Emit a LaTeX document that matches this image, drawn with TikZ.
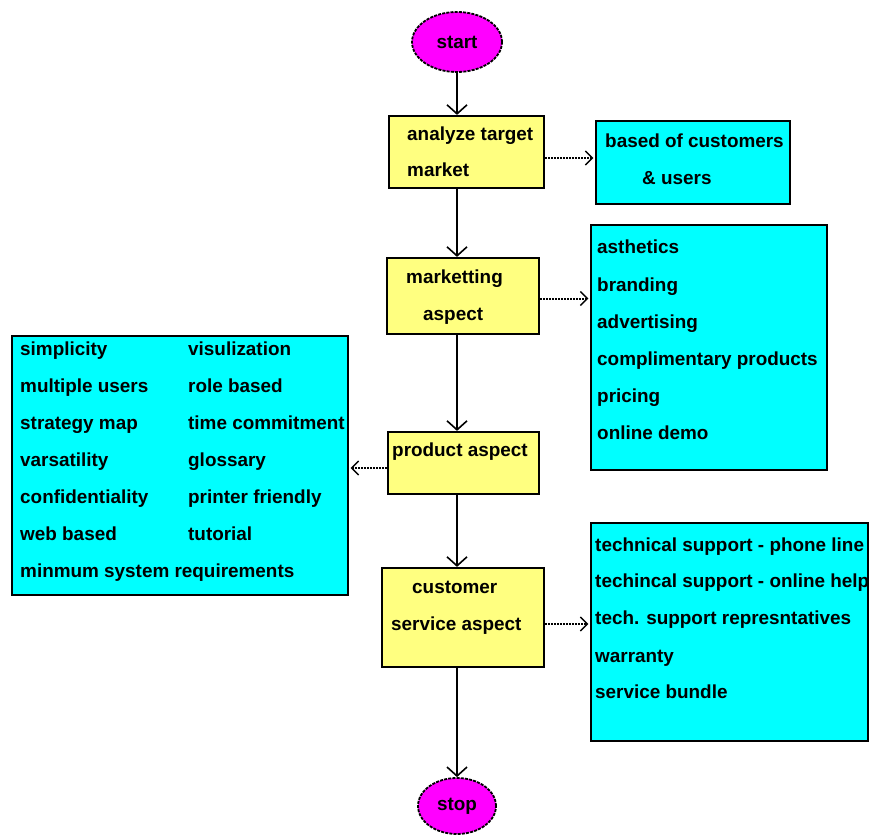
\documentclass[tikz,border=0pt]{standalone}
\usepackage{fontspec}
\setmainfont{Liberation Sans}
\usetikzlibrary{arrows.meta,shapes.geometric}
\definecolor{boxyellow}{HTML}{FFFF80}
\definecolor{boxcyan}{HTML}{00FFFF}
\definecolor{ovalmag}{HTML}{FF00FF}
\begin{document}
\begin{tikzpicture}[x=1pt,y=-1pt,
  font=\bfseries\fontsize{18.9}{24}\selectfont,
  oval/.style={ellipse, draw=black, line width=1.8pt, dash pattern=on 3pt off 1.2pt, fill=ovalmag, inner sep=0pt},
  stepbox/.style={rectangle, draw=black, line width=2.2pt, fill=boxyellow, inner sep=0pt},
  listbox/.style={rectangle, draw=black, line width=2.2pt, fill=boxcyan, inner sep=0pt},
  lbl/.style={anchor=west, inner sep=0pt, text height=14pt, text depth=4pt},
  solidarr/.style={draw=black, line width=2pt, -{Straight Barb[length=9pt,width=20pt,line width=1.6pt]}},
  dotarr/.style={draw=black, line width=2pt, dash pattern=on 1.5pt off 1.5pt, -{Straight Barb[length=7pt,width=14pt,line width=1.5pt,sep]}}
]
\useasboundingbox (0,0) rectangle (870,837);

% main flow
\node[oval, minimum width=90pt, minimum height=60pt] (start) at (457,42) {start};
\node[stepbox, minimum width=155pt, minimum height=72pt] (analyze) at (466.5,152) {};
\node[stepbox, minimum width=152pt, minimum height=76pt] (marketting) at (463,296) {};
\node[stepbox, minimum width=151pt, minimum height=62pt] (product) at (463.5,463) {};
\node[stepbox, minimum width=162pt, minimum height=99pt] (customer) at (463,617.5) {};
\node[oval, minimum width=78pt, minimum height=56pt] (stop) at (457,806) {stop};

% side boxes
\node[listbox, minimum width=194pt, minimum height=83pt] (based) at (693,162.5) {};
\node[listbox, minimum width=236pt, minimum height=245pt] (mlist) at (709,347.5) {};
\node[listbox, minimum width=336pt, minimum height=259pt] (plist) at (180,465.5) {};
\node[listbox, minimum width=277pt, minimum height=218pt] (slist) at (729.5,632) {};

% labels in step boxes
\node[lbl] (a1) at (407,136) {analyze target};
\node[lbl] (a2) at (407,172) {market};
\node[lbl] (m1) at (406,278) {marketting};
\node[lbl] (m2) at (423,315) {aspect};
\node[lbl] (p1) at (392,451) {product aspect};
\node[lbl] (c1) at (412,588) {customer};
\node[lbl] (c2) at (391,625) {service aspect};

% based box
\node[lbl] (b1) at (605,143) {based of customers};
\node[lbl] (b2) at (642,180) {\& users};

% marketing list
\node[lbl] (ml1) at (597,248) {asthetics};
\node[lbl] (ml2) at (597,286) {branding};
\node[lbl] (ml3) at (597,323) {advertising};
\node[lbl] (ml4) at (597,360) {complimentary products};
\node[lbl] (ml5) at (597,397) {pricing};
\node[lbl] (ml6) at (597,434) {online demo};

% product list
\node[lbl] (pl1) at (20,350) {simplicity};
\node[lbl] (pl2) at (20,387) {multiple users};
\node[lbl] (pl3) at (20,424) {strategy map};
\node[lbl] (pl4) at (20,461) {varsatility};
\node[lbl] (pl5) at (20,498) {confidentiality};
\node[lbl] (pl6) at (20,535) {web based};
\node[lbl] (pl7) at (20,572) {minmum system requirements};
\node[lbl] (pr1) at (188,350) {visulization};
\node[lbl] (pr2) at (188,387) {role based};
\node[lbl] (pr3) at (188,424) {time commitment};
\node[lbl] (pr4) at (188,461) {glossary};
\node[lbl] (pr5) at (188,498) {printer friendly};
\node[lbl] (pr6) at (188,535) {tutorial};

% service list
\node[lbl] (sl1) at (595,546) {technical support - phone line};
\node[lbl] (sl2) at (595,582) {techincal support - online help};
\node[lbl] (sl3) at (595,619) {tech. support represntatives};
\node[lbl] (sl4) at (595,657) {warranty};
\node[lbl] (sl5) at (595,693) {service bundle};

% solid connectors
\draw[solidarr] (start.south) -- (analyze.north -| start.south);
\draw[solidarr] (analyze.south -| start.south) -- (marketting.north -| start.south);
\draw[solidarr] (marketting.south -| start.south) -- (product.north -| start.south);
\draw[solidarr] (product.south -| start.south) -- (customer.north -| start.south);
\draw[solidarr] (customer.south -| start.south) -- (stop.north);

% dotted connectors
\draw[dotarr] ([yshift=-6pt]analyze.east) -- ([yshift=-6pt]analyze.east -| based.west);
\draw[dotarr] ([yshift=-2.5pt]marketting.east) -- ([yshift=-2.5pt]marketting.east -| mlist.west);
\draw[dotarr] ([yshift=-5pt]product.west) -- ([yshift=-5pt]product.west -| plist.east);
\draw[dotarr] ([yshift=-6.5pt]customer.east) -- ([yshift=-6.5pt]customer.east -| slist.west);
\end{tikzpicture}
\end{document}
